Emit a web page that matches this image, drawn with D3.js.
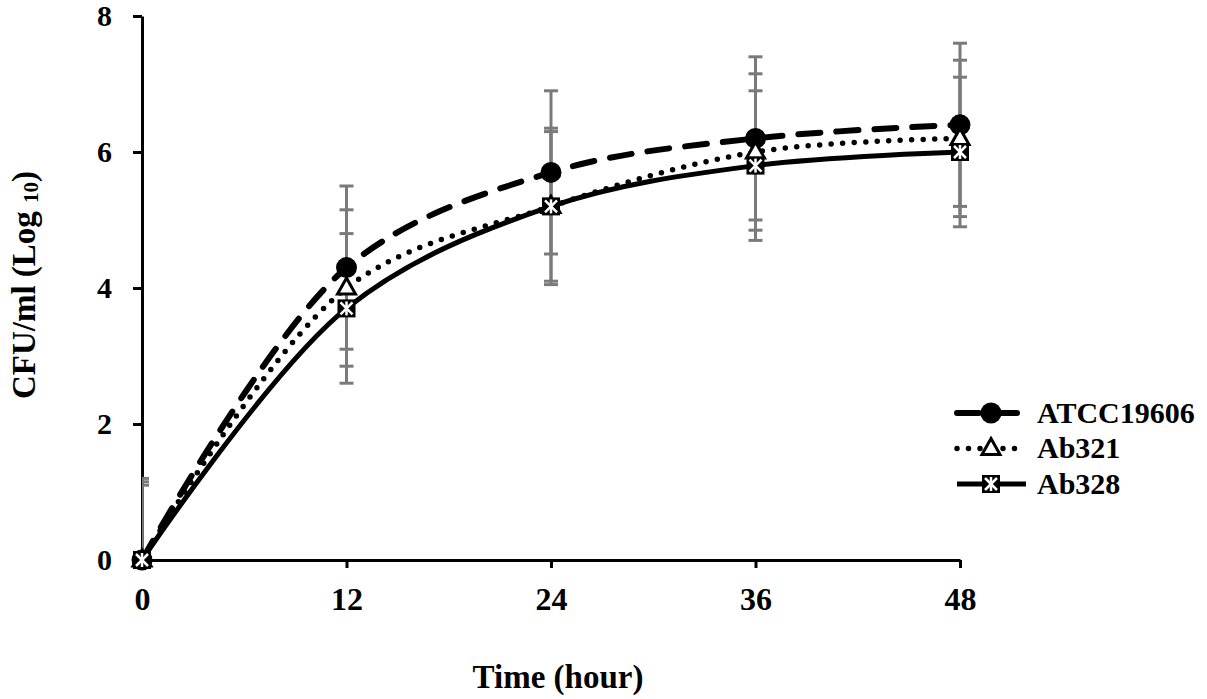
<!DOCTYPE html>
<html>
<head>
<meta charset="utf-8">
<script src="https://cdn.jsdelivr.net/npm/d3@7"></script>
<style>
  body { margin: 0; background: #fff; }
  svg text { font-family: "Liberation Serif", "Times New Roman", serif; font-weight: bold; fill: #000; }
</style>
</head>
<body>
<svg id="chart" width="1207" height="699"></svg>
<script>
// Growth curves, CFU/ml (log10) over time
const hours = [0, 12, 24, 36, 48];
const seriesNames = ["ATCC19606", "Ab321", "Ab328"];
const atccValues = [0, 4.3, 5.7, 6.2, 6.4];
const ab321Values = [0, 4.0, 5.2, 6.0, 6.2];
const ab328Values = [0, 3.7, 5.2, 5.8, 6.0];
const atccErrors = [1.2, 1.2, 1.2, 1.2, 1.2];
const ab321Errors = [1.15, 1.15, 1.15, 1.15, 1.15];
const ab328Errors = [1.1, 1.1, 1.1, 1.1, 1.1];
const yTicks = [0, 2, 4, 6, 8];
const xTicks = [0, 12, 24, 36, 48];

const series = [
  { name: seriesNames[0], values: atccValues, errors: atccErrors, dash: "22,16", width: 6, cap: "round", marker: "circle" },
  { name: seriesNames[1], values: ab321Values, errors: ab321Errors, dash: "0,11.5", width: 5.5, cap: "round", marker: "triangle" },
  { name: seriesNames[2], values: ab328Values, errors: ab328Errors, dash: null, width: 5, cap: "butt", marker: "star" }
];

const svg = d3.select("#chart");
const plotLeft = 142, plotRight = 960, plotTop = 16, plotBottom = 560;

const x = d3.scaleLinear().domain([0, 48]).range([plotLeft, plotRight]);
const y = d3.scaleLinear().domain([0, 8]).range([plotBottom, plotTop]);

// axes
const yAxis = svg.append("g")
  .attr("transform", `translate(${plotLeft},0)`)
  .call(d3.axisLeft(y).tickValues(yTicks).tickSize(9).tickSizeOuter(0).tickPadding(21));

const xAxis = svg.append("g")
  .attr("transform", `translate(0,${plotBottom})`)
  .call(d3.axisBottom(x).tickValues(xTicks).tickSize(8).tickSizeOuter(0));

[yAxis, xAxis].forEach(g => {
  g.select(".domain").attr("stroke", "#000").attr("stroke-width", 3);
  g.selectAll(".tick line").attr("stroke", "#000").attr("stroke-width", 3);
  g.selectAll(".tick text").attr("fill", "#000");
});
yAxis.selectAll(".tick text").style("font-size", "30px");
xAxis.selectAll(".tick text").style("font-size", "32px").attr("y", 50).attr("dy", 0);

// axis titles
svg.append("text")
  .attr("x", 558).attr("y", 688)
  .attr("text-anchor", "middle")
  .style("font-size", "33px")
  .text("Time (hour)");

const yTitle = svg.append("text")
  .attr("transform", "translate(35,285) rotate(-90)")
  .attr("text-anchor", "middle")
  .style("font-size", "33px");
yTitle.append("tspan").text("CFU/ml (Log ");
yTitle.append("tspan").style("font-size", "21px").attr("dy", 3).text("10");
yTitle.append("tspan").attr("dy", -3).text(")");

// error bars, clipped to the plot area like the original
svg.append("clipPath").attr("id", "plotClip")
  .append("rect").attr("x", plotLeft).attr("y", 0).attr("width", 1207 - plotLeft).attr("height", plotBottom);

const errG = svg.append("g").attr("clip-path", "url(#plotClip)")
  .attr("stroke", "#7a7a7a").attr("stroke-width", 3);

series.forEach(s => {
  hours.forEach((h, i) => {
    const cx = x(h);
    const hi = y(s.values[i] + s.errors[i]);
    const lo = y(s.values[i] - s.errors[i]);
    errG.append("line").attr("x1", cx).attr("x2", cx).attr("y1", hi).attr("y2", lo);
    errG.append("line").attr("x1", cx - 7).attr("x2", cx + 7).attr("y1", hi).attr("y2", hi);
    errG.append("line").attr("x1", cx - 7).attr("x2", cx + 7).attr("y1", lo).attr("y2", lo);
  });
});

// smoothed lines
const line = d3.line()
  .x((d, i) => x(hours[i]))
  .y(d => y(d))
  .curve(d3.curveCatmullRom.alpha(0.5));

series.forEach(s => {
  svg.append("path")
    .attr("d", line(s.values))
    .attr("fill", "none")
    .attr("stroke", "#000")
    .attr("stroke-width", s.width)
    .attr("stroke-linecap", s.cap)
    .attr("stroke-dasharray", s.dash);
});

// marker helper
function drawMarker(g, type, cx, cy) {
  if (type === "circle") {
    g.append("circle").attr("cx", cx).attr("cy", cy).attr("r", 10.5).attr("fill", "#000");
  } else if (type === "triangle") {
    g.append("path")
      .attr("d", `M${cx},${cy - 10} L${cx + 9},${cy + 6} L${cx - 9},${cy + 6} Z`)
      .attr("fill", "#fff").attr("stroke", "#000").attr("stroke-width", 3)
      .attr("stroke-linejoin", "miter");
  } else {
    const r = 9;
    g.append("rect").attr("x", cx - r).attr("y", cy - r).attr("width", 2 * r).attr("height", 2 * r).attr("fill", "#000");
    const w = g.append("g").attr("stroke", "#fff").attr("stroke-width", 2.5);
    w.append("line").attr("x1", cx - 6).attr("y1", cy - 6).attr("x2", cx + 6).attr("y2", cy + 6);
    w.append("line").attr("x1", cx + 6).attr("y1", cy - 6).attr("x2", cx - 6).attr("y2", cy + 6);
    w.append("line").attr("x1", cx).attr("y1", cy - 7).attr("x2", cx).attr("y2", cy + 7);
  }
}

const markG = svg.append("g");
series.forEach(s => {
  hours.forEach((h, i) => drawMarker(markG, s.marker, x(h), y(s.values[i])));
});

// legend
const legendRows = [413, 448.5, 484];
const legend = svg.append("g");
series.forEach((s, i) => {
  const ly = legendRows[i];
  legend.append("line")
    .attr("x1", 957).attr("x2", 1026).attr("y1", ly).attr("y2", ly)
    .attr("stroke", "#000")
    .attr("stroke-width", s.width)
    .attr("stroke-linecap", s.cap)
    .attr("stroke-dasharray", s.dash);
  drawMarker(legend, s.marker, 991, ly);
  legend.append("text")
    .attr("x", 1037).attr("y", ly).attr("dy", "0.33em")
    .style("font-size", "30px")
    .text(s.name);
});
</script>
</body>
</html>
